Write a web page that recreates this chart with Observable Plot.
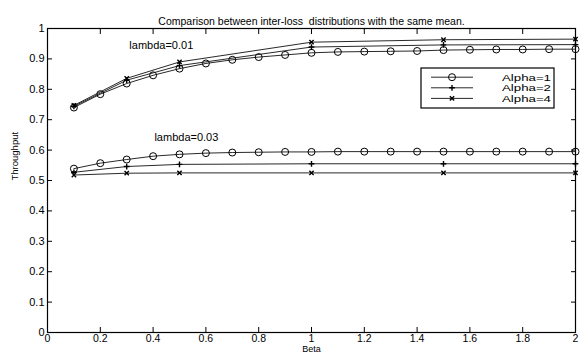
<!DOCTYPE html>
<html>
<head>
<meta charset="utf-8">
<script src="https://cdn.jsdelivr.net/npm/d3@7"></script>
<script src="https://cdn.jsdelivr.net/npm/@observablehq/plot@0.6"></script>
<style>
  html, body { margin: 0; padding: 0; background: #fff; }
  #chart { position: relative; width: 581px; height: 352px; overflow: hidden; }
</style>
</head>
<body>
<div id="chart"></div>
<script>
const title = "Comparison between inter-loss  distributions with the same mean.";
const xLabel = "Beta";
const yLabel = "Throughput";
const xTicks = [0, 0.2, 0.4, 0.6, 0.8, 1, 1.2, 1.4, 1.6, 1.8, 2];
const yTicks = [0, 0.1, 0.2, 0.3, 0.4, 0.5, 0.6, 0.7, 0.8, 0.9, 1];

// Beta values
const betaFine = [0.1, 0.2, 0.3, 0.4, 0.5, 0.6, 0.7, 0.8, 0.9, 1.0, 1.1, 1.2, 1.3, 1.4, 1.5, 1.6, 1.7, 1.8, 1.9, 2.0];
const betaCoarse = [0.1, 0.3, 0.5, 1.0, 1.5, 2.0];

// lambda = 0.01
const l1a1 = [0.740, 0.784, 0.819, 0.846, 0.868, 0.885, 0.897, 0.906, 0.913, 0.920, 0.923, 0.924, 0.925, 0.926, 0.929, 0.930, 0.931, 0.931, 0.932, 0.932];
const l1a2 = [0.744, 0.830, 0.878, 0.939, 0.946, 0.947];
const l1a4 = [0.747, 0.836, 0.890, 0.955, 0.963, 0.965];
// lambda = 0.03
const l3a1 = [0.539, 0.557, 0.569, 0.580, 0.586, 0.590, 0.592, 0.593, 0.594, 0.594, 0.595, 0.595, 0.595, 0.595, 0.595, 0.595, 0.595, 0.595, 0.595, 0.595];
const l3a2 = [0.527, 0.546, 0.553, 0.555, 0.555, 0.555];
const l3a4 = [0.518, 0.524, 0.525, 0.525, 0.525, 0.525];

const seriesNames = ["Alpha=1", "Alpha=2", "Alpha=4"];
const seriesSymbols = ["circle", "plus", "times"];
const annotations = [
  {text: "lambda=0.01", x: 0.31, y: 0.944},
  {text: "lambda=0.03", x: 0.405, y: 0.641}
];

function rows(xs, ys, lambda, alpha) {
  return xs.map((x, i) => ({beta: x, value: ys[i], lambda, alpha}));
}
const data = [
  ...rows(betaFine, l1a1, 0.01, 0),
  ...rows(betaCoarse, l1a2, 0.01, 1),
  ...rows(betaCoarse, l1a4, 0.01, 2),
  ...rows(betaFine, l3a1, 0.03, 0),
  ...rows(betaCoarse, l3a2, 0.03, 1),
  ...rows(betaCoarse, l3a4, 0.03, 2)
];
const radius = [3.5, 2.0, 2.1];
const font = "'Liberation Sans', Arial, Helvetica, sans-serif";

const marks = [Plot.frame({stroke: "black", strokeWidth: 1.2})];
marks.push(
  Plot.axisX({anchor: "bottom", ticks: xTicks, tickSize: -5, tickPadding: 7.5, tickFormat: d => String(d), fontSize: 10.5, label: null}),
  Plot.axisX({anchor: "top", ticks: xTicks, tickSize: -5, tickFormat: () => "", label: null}),
  Plot.axisY({anchor: "left", ticks: yTicks, tickSize: -5, tickPadding: 8, tickFormat: d => String(d), fontSize: 11, label: null}),
  Plot.axisY({anchor: "right", ticks: yTicks, tickSize: -5, tickFormat: () => "", label: null})
);
for (const lam of [0.01, 0.03]) {
  for (let a = 0; a < 3; a++) {
    const sub = data.filter(d => d.lambda === lam && d.alpha === a);
    marks.push(Plot.line(sub, {x: "beta", y: "value", stroke: "#111", strokeWidth: 0.9}));
    marks.push(Plot.dot(sub, {x: "beta", y: "value", symbol: seriesSymbols[a], r: radius[a], stroke: "black", strokeWidth: a === 0 ? 1 : 1.4, fill: a === 0 ? "none" : undefined}));
  }
}
marks.push(
  Plot.text(annotations, {x: "x", y: "y", text: "text", textAnchor: "start", fontSize: 11, fill: "black"}),
  Plot.text([title], {frameAnchor: "top", dy: -11, fontSize: 10.5, fill: "black"}),
  Plot.text([xLabel], {frameAnchor: "bottom", dy: 19.5, fontSize: 9, fill: "black"}),
  Plot.text([yLabel], {frameAnchor: "left", dx: -33, rotate: -90, fontSize: 9.5, fill: "black"})
);

const chart = Plot.plot({
  width: 581,
  height: 352,
  marginLeft: 47,
  marginRight: 6,
  marginTop: 28,
  marginBottom: 20,
  style: {fontFamily: font, background: "white", color: "black", overflow: "visible"},
  x: {domain: [0, 2]},
  y: {domain: [0, 1]},
  marks
});
document.getElementById("chart").appendChild(chart);

// Legend box (MATLAB-style, inside upper right)
const svg = d3.select(chart);
const lg = svg.append("g").attr("transform", "translate(421,68)");
lg.append("rect").attr("width", 133).attr("height", 40).attr("fill", "white").attr("stroke", "black").attr("stroke-width", 1.2);
const symbolTypes = [d3.symbolCircle, d3.symbolPlus, d3.symbolTimes];
seriesNames.forEach((name, i) => {
  const yy = 9.2 + i * 10.6;
  lg.append("line").attr("x1", 10).attr("x2", 52).attr("y1", yy).attr("y2", yy).attr("stroke", "#111").attr("stroke-width", 0.9);
  if (i === 0) {
    lg.append("circle").attr("cx", 31).attr("cy", yy).attr("r", 3.5).attr("fill", "none").attr("stroke", "black");
  } else {
    const r = radius[i];
    lg.append("path").attr("transform", `translate(31,${yy})`).attr("d", d3.symbol(symbolTypes[i], Math.PI * r * r)()).attr("fill", "none").attr("stroke", "black").attr("stroke-width", 1.4);
  }
  lg.append("text").attr("x", 130).attr("y", yy).attr("dy", "0.36em").attr("text-anchor", "end")
    .attr("font-size", 9.2).attr("textLength", 49).attr("lengthAdjust", "spacingAndGlyphs")
    .attr("font-family", font).attr("fill", "black").text(name);
});
</script>
</body>
</html>
